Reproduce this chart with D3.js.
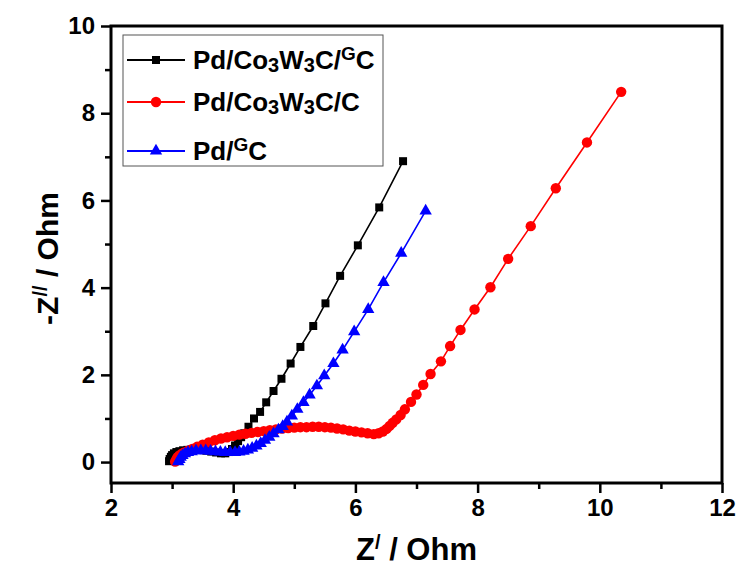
<!DOCTYPE html>
<html>
<head>
<meta charset="utf-8">
<script src="https://cdn.jsdelivr.net/npm/d3@7"></script>
<style>
  body { margin: 0; background: #fff; }
  svg text { font-family: "Liberation Sans", Arial, sans-serif; font-weight: bold; }
</style>
</head>
<body>
<svg id="chart"></svg>
<script>
// Nyquist plot data: [Z', -Z'']
const blackPts = [[2.95,0.02],[2.96,0.07],[2.98,0.12],[3.0,0.16],[3.03,0.2],[3.07,0.23],[3.12,0.25],[3.18,0.27],[3.25,0.28],[3.32,0.29],[3.4,0.29],[3.48,0.28],[3.56,0.26],[3.64,0.24],[3.72,0.22],[3.8,0.2],[3.87,0.2],[3.93,0.23],[3.98,0.3],[4.03,0.38],[4.08,0.48],[4.13,0.57],[4.18,0.66],[4.25,0.81],[4.34,1.0],[4.44,1.15],[4.54,1.37],[4.66,1.63],[4.79,1.91],[4.94,2.26],[5.10,2.64],[5.31,3.12],[5.51,3.64],[5.75,4.27],[6.04,4.97],[6.39,5.84],[6.78,6.9]];

const redPts = [[3.05,0.01],[3.07,0.06],[3.09,0.11],[3.12,0.15],[3.16,0.19],[3.2,0.22],[3.26,0.26],[3.33,0.3],[3.41,0.35],[3.5,0.4],[3.6,0.45],[3.7,0.5],[3.8,0.54],[3.9,0.57],[4.0,0.6],[4.1,0.63],[4.2,0.65],[4.3,0.67],[4.4,0.69],[4.5,0.71],[4.6,0.73],[4.7,0.75],[4.8,0.77],[4.9,0.78],[5.0,0.79],[5.1,0.8],[5.2,0.8],[5.3,0.81],[5.4,0.81],[5.5,0.8],[5.6,0.79],[5.7,0.77],[5.8,0.75],[5.9,0.72],[6.0,0.7],[6.1,0.68],[6.2,0.66],[6.3,0.64],[6.38,0.66],[6.45,0.7],[6.51,0.76],[6.56,0.83],[6.61,0.9],[6.67,0.98],[6.74,1.08],[6.81,1.21],[6.91,1.38],[7.0,1.55],[7.11,1.77],[7.23,2.02],[7.4,2.31],[7.55,2.66],[7.72,3.03],[7.95,3.5],[8.21,4.01],[8.5,4.66],[8.87,5.41],[9.28,6.28],[9.79,7.33],[10.35,8.49]];

const bluePts = [[3.1,0.01],[3.12,0.06],[3.14,0.11],[3.17,0.15],[3.21,0.19],[3.26,0.22],[3.32,0.24],[3.39,0.26],[3.47,0.26],[3.55,0.26],[3.63,0.25],[3.71,0.24],[3.79,0.23],[3.87,0.22],[3.95,0.22],[4.03,0.22],[4.1,0.23],[4.17,0.25],[4.24,0.28],[4.31,0.32],[4.38,0.37],[4.45,0.43],[4.52,0.5],[4.59,0.57],[4.66,0.65],[4.74,0.74],[4.81,0.82],[4.88,0.92],[4.96,1.06],[5.05,1.21],[5.15,1.37],[5.25,1.54],[5.37,1.75],[5.49,1.98],[5.64,2.26],[5.79,2.57],[5.98,2.99],[6.21,3.5],[6.46,4.12],[6.75,4.79],[7.15,5.76]];

const xTicks = [2, 4, 6, 8, 10, 12];
const xMinor = [3, 5, 7, 9, 11];
const yTicks = [0, 2, 4, 6, 8, 10];
const yMinor = [1, 3, 5, 7, 9];

const series = [
  {name: 'black', color: '#000000', symbol: d3.symbolSquare, size: 64, data: blackPts,
   label: [['Pd/Co'], ['3', 'sub'], ['W'], ['3', 'sub'], ['C/'], ['G', 'sup'], ['C']]},
  {name: 'red', color: '#ff0000', symbol: d3.symbolCircle, size: 85, data: redPts,
   label: [['Pd/Co'], ['3', 'sub'], ['W'], ['3', 'sub'], ['C/C']]},
  {name: 'blue', color: '#0000ff', symbol: d3.symbolTriangle, size: 66, data: bluePts,
   label: [['Pd/'], ['G', 'sup'], ['C']]}
];

const W = 740, H = 567;
const margin = {top: 26, right: 18, bottom: 84, left: 111};
const width = W - margin.left - margin.right;
const height = H - margin.top - margin.bottom;

const svg = d3.select('#chart').attr('width', W).attr('height', H);
const chart = svg.append('g').attr('transform', `translate(${margin.left},${margin.top})`);

const xScale = d3.scaleLinear().domain([2, 12]).range([0, width]);
const yScale = d3.scaleLinear().domain([-0.48, 10]).range([height, 0]);

// axes
const xAxis = d3.axisBottom(xScale).tickValues(xTicks).tickSize(10).tickPadding(6).tickFormat(d3.format('d'));
const yAxis = d3.axisLeft(yScale).tickValues(yTicks).tickSize(10).tickPadding(6).tickFormat(d3.format('d'));

const xAxisG = chart.append('g').attr('class', 'axis x-axis')
  .attr('transform', `translate(0,${height})`).call(xAxis);
const yAxisG = chart.append('g').attr('class', 'axis y-axis').call(yAxis);

chart.append('g').attr('transform', `translate(0,${height})`)
  .call(d3.axisBottom(xScale).tickValues(xMinor).tickSize(6).tickFormat(''));
chart.append('g')
  .call(d3.axisLeft(yScale).tickValues(yMinor).tickSize(6).tickFormat(''));

chart.selectAll('.tick line').attr('stroke', '#000').attr('stroke-width', 2.5);
chart.selectAll('.domain').remove();
chart.selectAll('.tick text').attr('font-size', 24).attr('fill', '#000');

// frame
chart.append('rect')
  .attr('x', 0).attr('y', 0).attr('width', width).attr('height', height)
  .attr('fill', 'none').attr('stroke', '#000').attr('stroke-width', 3);

// lines and markers
const line = d3.line().x(d => xScale(d[0])).y(d => yScale(d[1]));

series.forEach(s => {
  chart.append('path')
    .datum(s.data)
    .attr('class', s.name + '-line')
    .attr('fill', 'none')
    .attr('stroke', s.color)
    .attr('stroke-width', 1.6)
    .attr('d', line);
});

series.forEach(s => {
  chart.selectAll('.' + s.name + '-pt')
    .data(s.data)
    .join('path')
    .attr('class', s.name + '-pt')
    .attr('transform', d => `translate(${xScale(d[0])},${yScale(d[1])})`)
    .attr('d', d3.symbol().type(s.symbol).size(s.size))
    .attr('fill', s.color);
});

// legend
const legend = svg.append('g').attr('transform', 'translate(123,35)');
legend.append('rect')
  .attr('width', 260).attr('height', 131)
  .attr('fill', '#fff').attr('stroke', '#555').attr('stroke-width', 1);

const rowY = [25, 67, 116];
series.forEach((s, i) => {
  const g = legend.append('g').attr('transform', `translate(0,${rowY[i]})`);
  g.append('line').attr('x1', 4).attr('x2', 62).attr('stroke', s.color).attr('stroke-width', 1.8);
  g.append('path').attr('transform', 'translate(33,0)')
    .attr('d', d3.symbol().type(s.symbol).size(s.size)).attr('fill', s.color);
  const t = g.append('text').attr('x', 70).attr('y', 9).attr('font-size', 26).attr('fill', '#000');
  let shift = 0;
  s.label.forEach(([txt, kind]) => {
    let target = 0, fs = 26;
    if (kind === 'sub') { target = 3; fs = 20; }
    if (kind === 'sup') { target = -9; fs = 19; }
    t.append('tspan').attr('dy', target - shift).attr('font-size', fs).text(txt);
    shift = target;
  });
});

// axis titles
const xTitle = svg.append('text')
  .attr('x', margin.left + width / 2).attr('y', 560)
  .attr('text-anchor', 'middle').attr('font-size', 31).attr('fill', '#000');
xTitle.append('tspan').text('Z');
xTitle.append('tspan').attr('dy', -11).attr('font-size', 20).text('/');
xTitle.append('tspan').attr('dy', 11).text(' / Ohm');

const yTitle = svg.append('text')
  .attr('transform', `translate(58,${margin.top + height / 2 + 4}) rotate(-90)`)
  .attr('text-anchor', 'middle').attr('font-size', 30).attr('fill', '#000');
yTitle.append('tspan').text('-Z');
yTitle.append('tspan').attr('dy', -11).attr('font-size', 20).text('//');
yTitle.append('tspan').attr('dy', 11).text(' / Ohm');
</script>
</body>
</html>
